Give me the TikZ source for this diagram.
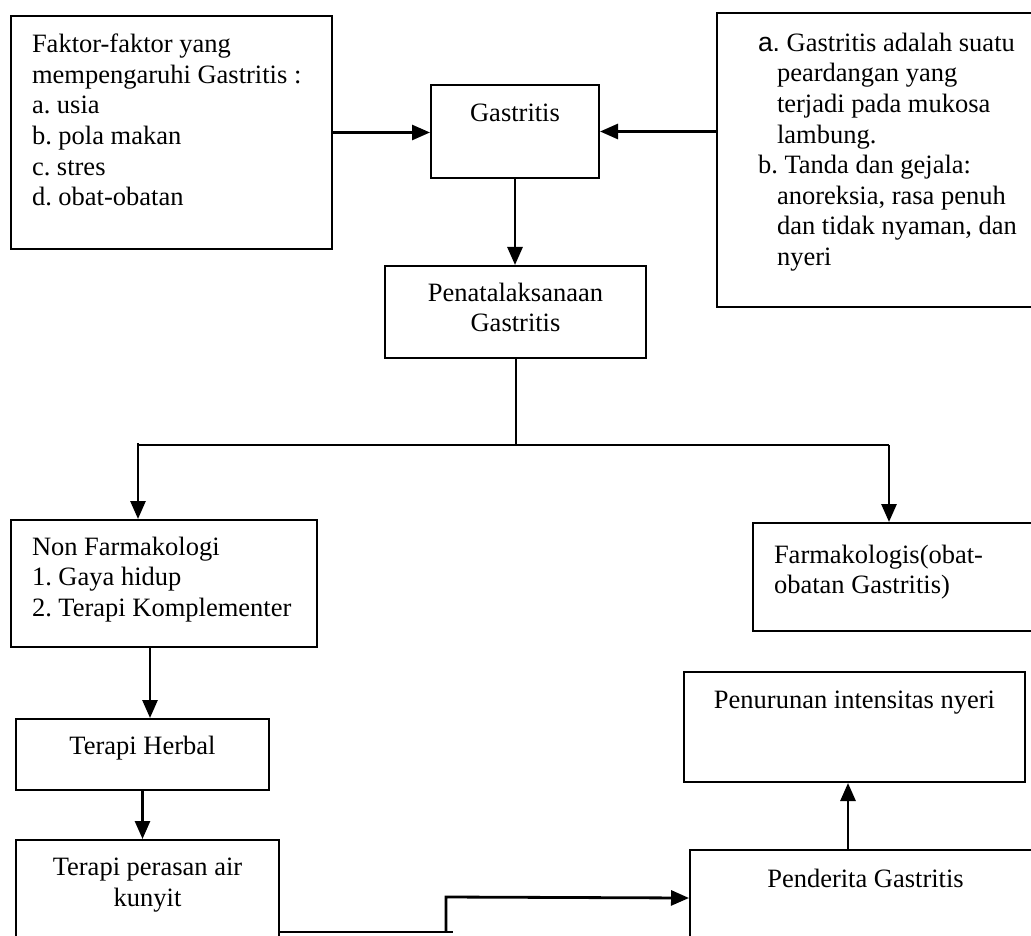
\documentclass[tikz,border=0pt]{standalone}
\usepackage{fontspec}
\setmainfont{Liberation Serif}
\newfontfamily\arialfont{Liberation Sans}
\frenchspacing
\usetikzlibrary{%
  calc,
  arrows.meta
}
\newcommand{\kotak}[9]{%
  % #1 nama, #2 #3 pojok kiri atas, #4 lebar, #5 tinggi,
  % #6 perataan, #7 sisip kiri, #8 sisip atas, #9 isi
  \node [kotak, minimum width=#4*0.5pt, minimum height=#5*0.5pt]
        (#1) at (#2, #3)
        {\parbox[c][\dimexpr #5pt/2\relax][t]{\dimexpr #4pt/2\relax}{%
           #6\advance\leftskip by \dimexpr #7pt/2\relax
           \vspace*{\dimexpr #8pt/2\relax}#9}} ;
}

\begin{document}
\begin{tikzpicture}[
  x=0.5pt, y=-0.5pt,
  >={Triangle[length=9pt, width=7.5pt]},
  kotak/.style={draw, line width=1pt, anchor=north west, inner sep=0pt,
                font=\fontsize{13.25}{15.3}\selectfont},
  garis/.style={line width=1pt},
  panah/.style={->, line width=1.4pt},
]
  \useasboundingbox (0,0) rectangle (1031,935) ;
  \clip (0,0) rectangle (1031,935) ;

  % baris atas
  \kotak{faktor}{10}{15}{321}{233}{\raggedright}{21}{18}{%
    Faktor-faktor yang\\ mempengaruhi Gastritis :\\ a. usia\\
    b. pola makan\\ c. stres\\ d. obat-obatan}
  \kotak{gastritis}{430}{84}{168}{93}{\centering}{0}{19}{Gastritis}
  \kotak{definisi}{716}{12}{324}{294}{\raggedright}{41}{20}{%
    {\arialfont a.} Gastritis adalah suatu\\
    \hspace*{9.5pt}peardangan yang\\
    \hspace*{9.5pt}terjadi pada mukosa\\
    \hspace*{9.5pt}lambung.\\
    b. Tanda dan gejala:\\
    \hspace*{9.5pt}anoreksia, rasa penuh\\
    \hspace*{9.5pt}dan tidak nyaman, dan\\
    \hspace*{9.5pt}nyeri}
  \kotak{penatalaksanaan}{384}{265}{261}{92}{\centering}{0}{17}{%
    Penatalaksanaan\\ Gastritis}

  % cabang
  \kotak{nonfarmako}{10}{519}{306}{127}{\raggedright}{21}{17}{%
    Non Farmakologi\\ 1. Gaya hidup\\ 2. Terapi Komplementer}
  \kotak{farmako}{752}{522}{288}{108}{\raggedright}{21}{22}{%
    Farmakologis(obat-\\ obatan Gastritis)}

  % baris bawah
  \kotak{herbal}{15}{718}{253}{71}{\centering}{0}{17}{Terapi Herbal}
  \kotak{kunyit}{15}{839}{263}{106}{\centering}{0}{18}{%
    Terapi perasan air\\ kunyit}
  \kotak{penurunan}{683}{671}{341}{110}{\centering}{0}{19}{%
    Penurunan intensitas nyeri}
  \kotak{penderita}{689}{849}{351}{96}{\centering}{0}{19}{%
    Penderita Gastritis}

  % panah atas
  \draw [panah] (faktor.east) -- (faktor.east -| gastritis.west) ;
  \draw [panah] (gastritis.east -| definisi.west) -- (gastritis.east) ;
  \draw [panah] (gastritis.south) -- (gastritis.south |- penatalaksanaan.north) ;

  % percabangan
  \coordinate (cabangkiri) at (138,445) ;
  \coordinate (cabangkanan) at (889,445) ;
  \draw [garis] (penatalaksanaan.south) -- (penatalaksanaan.south |- cabangkiri) ;
  \draw [garis] (cabangkiri) -- (cabangkanan) ;
  \draw [panah] ([yshift=1pt]cabangkiri) -- (cabangkiri |- nonfarmako.north) ;
  \draw [panah] (cabangkanan) -- (cabangkanan |- farmako.north) ;

  % panah bawah
  \draw [panah] ([xshift=-7pt]nonfarmako.south)
        -- ([xshift=-7pt]nonfarmako.south |- herbal.north) ;
  \draw [panah] (herbal.south) -- (herbal.south |- kunyit.north) ;
  \coordinate (bawah) at (453,932) ;
  \coordinate (belok) at (446,897) ;
  \draw [garis] (kunyit.east |- bawah) -- (bawah) ;
  \draw [panah] (belok |- bawah) -- (belok) -- (penderita.west) ;
  \draw [panah] ([xshift=-8.75pt]penderita.north)
        -- ([xshift=-8.75pt]penderita.north |- penurunan.south) ;
\end{tikzpicture}
\end{document}
